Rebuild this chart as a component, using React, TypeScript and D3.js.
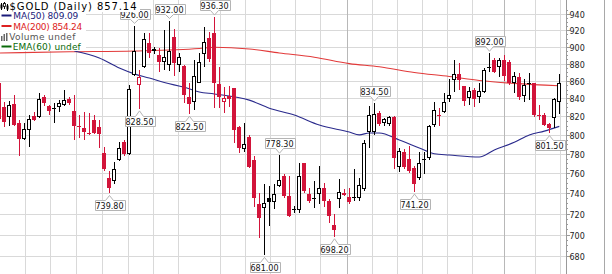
import React from "react";
import * as d3 from "d3";

// ---------- DATA ----------
const opens = [
  858, 830, 819, 834, 813, 796, 805, 820, 819, 842, 831, 829.5, 830, 833, 839, 826, 810, 807, 800.5, 816,
  808, 781, 755, 752, 773, 792, 780, 867, 855, 875.5, 905, 897, 890, 881.5, 878, 911.5, 878, 877, 841.5, 836,
  858, 891, 910.5, 916.5, 856, 836, 842.5, 851.5, 808, 785, 798, 774, 729.5, 725, 735.5, 731.5, 747, 757, 737, 724.5,
  723, 770, 739, 735.5, 739, 745, 732.5, 709, 734.5, 738.5, 736, 736.5, 735, 744, 803, 803.5, 823.5, 812.5, 811.5, 819,
  766.5, 781.5, 775, 765.5, 755, 774.5, 776, 810.5, 821.5, 825, 839, 860.5, 867.5, 853.5, 840, 850, 842, 847.5, 874.5, 884,
  875.5, 884, 881.5, 858, 864, 842.5, 858, 857, 822, 822, 811.5, 818, 836,
];
const highs = [
  864, 836, 837, 844, 816, 813, 821, 825, 846, 844, 833, 835, 838, 850, 842, 844, 821, 825, 824, 821,
  816, 787, 762, 771, 792, 794, 855, 926, 872, 916.5, 916.5, 899.5, 898, 920.5, 932, 921.5, 892, 878, 857, 884,
  893, 924, 918, 936.3, 875.5, 852.5, 853.5, 852, 809, 812.5, 799.5, 778, 740, 749, 747, 749, 778.3, 759, 757, 727.5,
  770, 770.5, 745, 752, 767.5, 750, 734.5, 720, 754, 744, 745, 764.5, 755, 794, 831, 834.5, 826, 818, 820.5, 820.5,
  786.5, 785, 788.5, 767.5, 781.5, 781.5, 810.5, 836, 829, 846, 862, 884, 880.5, 854, 852.5, 851.5, 857, 874.5, 892, 886.5,
  886.5, 890, 884, 870, 868.5, 862.5, 868.5, 858, 832.5, 823.5, 813, 840.5, 868,
];
const lows = [
  814, 808, 810, 809, 778, 794, 787, 815, 818, 832, 821, 813, 825, 831, 833, 795, 797, 794, 800, 801,
  786, 762, 739.8, 749, 772, 778, 779, 866, 828.5, 874.5, 887, 891.5, 870, 872, 871, 866, 870, 835, 822.5, 827,
  857, 875.5, 881.5, 829, 829, 823.5, 830, 791, 781, 782, 765.5, 726, 696.5, 681, 708, 724, 746, 735, 716.5, 721,
  721, 740, 730.5, 725, 729.5, 726, 711, 698.2, 725, 737, 729.5, 732.5, 732.5, 742, 786.5, 800, 809, 810, 809, 764.5,
  761.5, 764.5, 760.5, 741.2, 753, 759.5, 773, 808, 810, 823.5, 836, 847.5, 849, 832, 833, 830, 835, 846, 870, 868.5,
  864, 860, 855, 846, 838, 836, 838, 819, 816, 809, 801.5, 807, 823,
];
const closes = [
  817, 814, 833, 811, 796, 806, 817, 816, 839, 835, 826, 829, 835, 838, 835, 810, 808, 803, 802, 801.5,
  800.5, 764.5, 745, 764.5, 786.5, 780, 851, 895.5, 864, 909, 892, 894.5, 881.5, 887.5, 894.5, 880.5, 887.5, 843.5, 833.5, 865,
  881.5, 905.5, 886, 858, 841.5, 840, 839, 805, 786.5, 790, 766.5, 735.5, 715.5, 730.5, 731.5, 739, 753, 737, 717.5, 724,
  757, 742, 732.5, 735, 745, 732.5, 717.5, 704, 741, 740.5, 731.5, 736, 748, 791, 821.5, 822.5, 811.5, 817, 819, 776,
  782.5, 766.5, 762.5, 749, 770, 774, 809, 827, 820, 836, 843.5, 868, 860.5, 837, 848, 839, 848.5, 872, 876, 870.5,
  884.5, 866, 858, 866, 842, 855, 857.3, 821.5, 820, 810.5, 807, 839, 857.14,
];

const ma50Days = [15, 20, 24, 27, 30, 33, 37, 40, 43, 50, 54, 59, 64, 70, 72, 74, 76, 80, 84, 87, 90, 96, 99, 103, 106, 109, 112];
const ma50Values = [895, 886.6, 874.8, 868, 863.2, 858, 852.5, 847.2, 845, 838, 829, 821.5, 810.6, 803, 800, 802, 802, 794.5, 786, 780, 778.7, 776.6, 784, 792, 799.8, 804, 809.09];

const ma200Days = [0, 14, 27, 40, 43, 50, 56, 63, 70, 76, 83, 90, 96, 103, 112];
const ma200Values = [892.6, 894, 895, 898, 899.5, 897.4, 892.6, 887.5, 880, 876.3, 869.6, 865, 860.4, 857, 854.24];

const yTicks = [680, 700, 720, 740, 760, 780, 800, 820, 840, 860, 880, 900, 920, 940];
const gridDays = [5.14, 10.14, 15.34, 20.48, 25.8, 30.8, 35.8, 44.14, 49.14, 54.14, 59.14, 64.14, 69.48, 74.48, 79.48, 84.48, 89.48, 94.48, 101, 107.14, 112.14];
const darkGridDays = [69.48, 101];

const highMarks = [27, 34, 43, 56, 75, 98];
const lowMarks = [22, 28, 38, 53, 67, 83, 110];

const symbol = "$GOLD";
const period = "Daily";

// ---------- LAYOUT ----------
const W = 612;
const H = 274;
const AXIS_X = 566;
const RED = "#d2143a";
const NAVY = "#2a2a8c";
const MA_RED = "#e23a3a";
const GRID = "#d9d9d9";
const FONT = "'DejaVu Sans', Verdana, sans-serif";

export default function App() {
  const n = closes.length;
  const x = d3.scaleLinear().domain([0, n - 1]).range([-0.7, -0.7 + 5 * (n - 1)]);
  const y = d3.scaleLog().domain([680, 940]).range([256.3, 14.3]);

  const line = d3
    .line<[number, number]>()
    .x((d) => x(d[0]))
    .y((d) => y(d[1]))
    .curve(d3.curveMonotoneX);

  const ma50Path = line(ma50Days.map((d, i) => [d, ma50Values[i]]) as [number, number][]) || "";
  const ma200Path = line(ma200Days.map((d, i) => [d, ma200Values[i]]) as [number, number][]) || "";

  const candles = closes.map((c, i) => {
    const o = opens[i];
    const h = highs[i];
    const l = lows[i];
    const prev = i > 0 ? closes[i - 1] : Infinity;
    const color = c < prev ? RED : "#000";
    const filled = c < o;
    const px = Math.round(x(i));
    const wx = px + 0.5;
    const yTop = Math.round(y(Math.max(o, c)));
    const yBot = Math.round(y(Math.min(o, c)));
    const yH = Math.round(y(h));
    const yL = Math.round(y(l));
    let body: React.ReactNode;
    if (yBot - yTop < 2) {
      body = <line x1={px - 2} x2={px + 2} y1={yTop + 0.5} y2={yTop + 0.5} stroke={color} strokeWidth={1} />;
    } else if (filled) {
      body = <rect x={px - 2} y={yTop} width={4} height={yBot - yTop} fill={color} />;
    } else {
      body = (
        <rect x={px - 1.5} y={yTop + 0.5} width={3} height={yBot - yTop - 1} fill="#fff" stroke={color} strokeWidth={1} />
      );
    }
    return (
      <g key={i}>
        <line x1={wx} x2={wx} y1={yH} y2={yL} stroke={color} strokeWidth={1} />
        {body}
      </g>
    );
  });

  const labelW = 30;
  const labelH = 10;
  const mkLabel = (i: number, v: number, isHigh: boolean, key: string) => {
    const cx = Math.round(x(i)) + 0.5;
    const yv = y(v);
    const left = Math.round(cx - labelW / 2) + 0.5;
    const right = left + labelW;
    let d: string;
    let textY: number;
    if (isHigh) {
      const bottom = Math.round(yv - 7) + 0.5;
      const top = bottom - labelH;
      const apex = yv - 2.2;
      d = `M${left},${top}H${right}V${bottom}H${cx + 4}L${cx},${apex}L${cx - 4},${bottom}H${left}Z`;
      textY = bottom - 2;
    } else {
      const top = Math.round(yv + 7) + 0.5;
      const bottom = top + labelH;
      const apex = yv + 2.2;
      d = `M${left},${top}H${cx - 4}L${cx},${apex}L${cx + 4},${top}H${right}V${bottom}H${left}Z`;
      textY = bottom - 2;
    }
    return (
      <g key={key}>
        <path d={d} fill="#fff" stroke="#b4b4b4" strokeWidth={1} />
        <text x={cx} y={textY} textAnchor="middle" fontSize={8} fontFamily={FONT} fill="#111">
          {v.toFixed(2)}
        </text>
      </g>
    );
  };

  const minorTicks: number[] = [];
  for (let v = 680; v <= 945; v += 5) minorTicks.push(v);

  const last = n - 1;

  return (
    <svg
      width={W}
      height={H}
      style={{ position: "absolute", left: 0, top: 0, background: "#fff" }}
      xmlns="http://www.w3.org/2000/svg"
    >
      <rect x={0} y={0} width={W} height={H} fill="#fff" />
      <defs>
        <clipPath id="plot">
          <rect x={0} y={0} width={AXIS_X} height={H} />
        </clipPath>
      </defs>

      {/* grid */}
      <g>
        {yTicks.map((v) => {
          const yy = Math.round(y(v)) + 0.5;
          return <line key={v} x1={0} x2={AXIS_X} y1={yy} y2={yy} stroke={GRID} strokeWidth={1} />;
        })}
        {gridDays.map((g) => {
          const xx = Math.round(x(g)) + 0.5;
          const dark = darkGridDays.includes(g);
          return (
            <line key={g} x1={xx} x2={xx} y1={0} y2={H} stroke={dark ? "#b8b8b8" : GRID} strokeWidth={1} />
          );
        })}
      </g>

      <g clipPath="url(#plot)">
        <path d={ma200Path} fill="none" stroke={MA_RED} strokeWidth={1.1} />
        <path d={ma50Path} fill="none" stroke={NAVY} strokeWidth={1.1} />
        {candles}
      </g>

      {/* annotations */}
      {highMarks.map((i) => mkLabel(i, highs[i], true, "h" + i))}
      {lowMarks.map((i) => mkLabel(i, lows[i], false, "l" + i))}

      {/* axis */}
      <line x1={AXIS_X + 0.5} x2={AXIS_X + 0.5} y1={0} y2={H} stroke="#9a9a9a" strokeWidth={1} />
      <line x1={604.5} x2={604.5} y1={0} y2={H} stroke="#a8a8a8" strokeWidth={1} />
      {minorTicks.map((v) => {
        const yy = Math.round(y(v)) + 0.5;
        return <line key={"m" + v} x1={AXIS_X + 1} x2={AXIS_X + 2} y1={yy} y2={yy} stroke="#9a9a9a" strokeWidth={1} />;
      })}
      {yTicks.map((v) => {
        const yy = Math.round(y(v)) + 0.5;
        return (
          <g key={"t" + v}>
            <line x1={AXIS_X + 1} x2={AXIS_X + 4} y1={yy} y2={yy} stroke="#9a9a9a" strokeWidth={1} />
            <text x={569.5} y={yy + 3} fontSize={8} fontFamily={FONT} fill="#222">
              {v}
            </text>
          </g>
        );
      })}

      {/* legend */}
      <rect x={0} y={0} width={140} height={12} fill="#fff" />
      <rect x={0} y={12} width={86} height={39} fill="#fff" />
      <g>
        {/* candle icon */}
        <line x1={1.5} x2={1.5} y1={3} y2={10} stroke="#000" />
        <rect x={0.5} y={4.5} width={2} height={4} fill="#000" />
        <line x1={4.5} x2={4.5} y1={2} y2={9} stroke="#000" />
        <rect x={3.5} y={3.5} width={2} height={3} fill="#fff" stroke="#000" strokeWidth={0.8} />
        <line x1={7.5} x2={7.5} y1={4} y2={11} stroke="#000" />
        <rect x={6.5} y={5.5} width={2} height={4} fill="#000" />
        <text x={9.5} y={10} fontSize={10} fontFamily={FONT} fill="#000" textLength={127} lengthAdjust="spacing">
          {`${symbol} (${period}) ${closes[last].toFixed(2)}`}
        </text>

        <line x1={1.5} x2={11.5} y1={15.5} y2={15.5} stroke="#1a1a7a" strokeWidth={2} />
        <text x={13.3} y={19.3} fontSize={9} fontFamily={FONT} fill="#1a1a7a" textLength={65} lengthAdjust="spacing">
          {`MA(50) ${ma50Values[ma50Values.length - 1].toFixed(2)}`}
        </text>

        <line x1={1.5} x2={11.5} y1={26} y2={26} stroke="#dd2222" strokeWidth={2} />
        <text x={13.3} y={30} fontSize={9} fontFamily={FONT} fill="#dd2222" textLength={69} lengthAdjust="spacing">
          {`MA(200) ${ma200Values[ma200Values.length - 1].toFixed(2)}`}
        </text>

        <rect x={1} y={36} width={1.5} height={5} fill="#666" />
        <rect x={3.5} y={34} width={1.5} height={7} fill="#666" />
        <rect x={6} y={33} width={1.5} height={8} fill="#666" />
        <text x={9.3} y={40} fontSize={9} fontFamily={FONT} fill="#555" textLength={66} lengthAdjust="spacing">
          Volume undef
        </text>

        <line x1={1.5} x2={11.5} y1={46.5} y2={46.5} stroke="#0a6a0a" strokeWidth={2} />
        <text x={12.7} y={50} fontSize={9} fontFamily={FONT} fill="#0a6a0a" textLength={68} lengthAdjust="spacing">
          EMA(60) undef
        </text>
      </g>
    </svg>
  );
}
